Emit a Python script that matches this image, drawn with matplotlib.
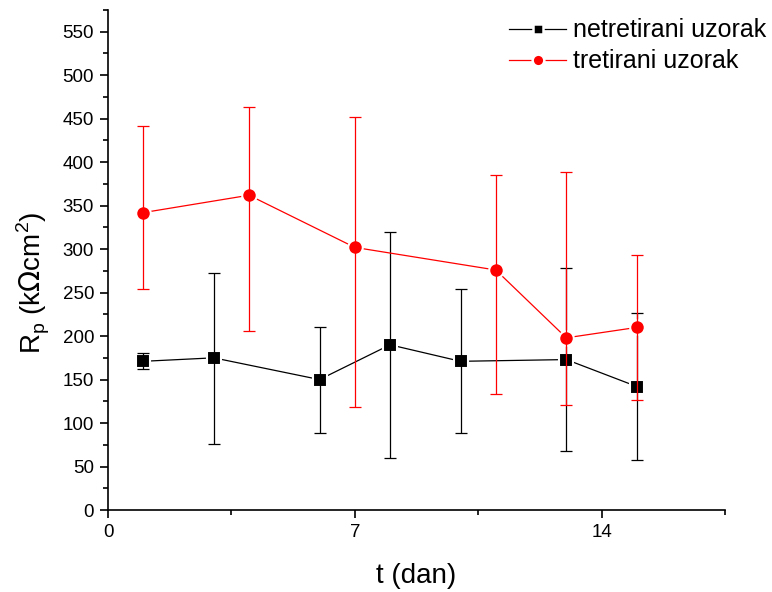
import matplotlib
matplotlib.use("Agg")
import matplotlib.pyplot as plt
from matplotlib.lines import Line2D
from matplotlib.ticker import MultipleLocator
import numpy as np

plt.rcParams["font.family"] = ["Liberation Sans", "DejaVu Sans"]

# netretirani uzorak (untreated)
t_untreated = [1, 3, 6, 8, 10, 13, 15]
rp_untreated = [171, 175, 150, 190, 171, 173, 142]
rp_untreated_hi = [180, 272, 211, 320, 254, 278, 226]
rp_untreated_lo = [162, 76, 88, 60, 88, 68, 57]

# tretirani uzorak (treated)
t_treated = [1, 4, 7, 11, 13, 15]
rp_treated = [342, 362, 302, 276, 198, 210]
rp_treated_hi = [442, 463, 452, 385, 389, 293]
rp_treated_lo = [254, 206, 119, 133, 121, 127]

x_ticks = [0, 7, 14]

fig = plt.figure(figsize=(7.72, 5.92), dpi=100)
ax = fig.add_axes([0.1399, 0.1385, 0.7992, 0.8446])

series = [
    (t_untreated, rp_untreated, rp_untreated_hi, rp_untreated_lo, "black", "s", 9.5, "netretirani uzorak"),
    (t_treated, rp_treated, rp_treated_hi, rp_treated_lo, "red", "o", 10.5, "tretirani uzorak"),
]

handles = []
for i, (t, v, hi, lo, color, marker, ms, label) in enumerate(series):
    v = np.asarray(v, dtype=float)
    yerr = [v - np.asarray(lo), np.asarray(hi) - v]
    z = 2 + i * 3
    # connecting line, then markers with a white halo (gap like Origin), then error bars
    ax.plot(t, v, color=color, linewidth=0.9, zorder=z)
    ax.plot(t, v, linestyle="none", marker=marker, markersize=ms,
            markerfacecolor=color, markeredgecolor="white", markeredgewidth=1.5, zorder=z + 1)
    ax.errorbar(t, v, yerr=yerr, fmt="none", ecolor=color, elinewidth=0.9,
                capsize=4, capthick=0.9, zorder=z + 2)
    handles.append(Line2D([], [], color=color, linewidth=0.9, marker=marker,
                          markersize=ms * 0.8, markerfacecolor=color,
                          markeredgecolor="white", markeredgewidth=1.8, label=label))

ax.set_xlim(0, 17.5)
ax.set_ylim(0, 575)
ax.set_xticks(x_ticks)
ax.xaxis.set_minor_locator(MultipleLocator(3.5))
ax.set_yticks(np.arange(0, 551, 50))
ax.yaxis.set_minor_locator(MultipleLocator(25))

for side in ["top", "right"]:
    ax.spines[side].set_visible(False)
for side in ["left", "bottom"]:
    ax.spines[side].set_linewidth(1.2)

ax.tick_params(which="major", direction="out", length=6, width=1.2, labelsize=13.5, pad=4)
ax.tick_params(which="minor", direction="out", length=3.5, width=1.2)

ax.set_xlabel("t (dan)", fontsize=20, labelpad=16)
ax.set_ylabel(r"R$_\mathregular{p}$ (k$\Omega$cm$^\mathregular{2}$)", fontsize=20)
ax.yaxis.set_label_coords(-0.09, 0.454)

fig.legend(
    handles=handles, loc="upper left", bbox_to_anchor=(0.647, 0.986),
    frameon=False, fontsize=18, handlelength=2.25, handletextpad=0.3,
    labelspacing=0.28, borderaxespad=0.0,
)

fig.savefig("out.png", dpi=100)
